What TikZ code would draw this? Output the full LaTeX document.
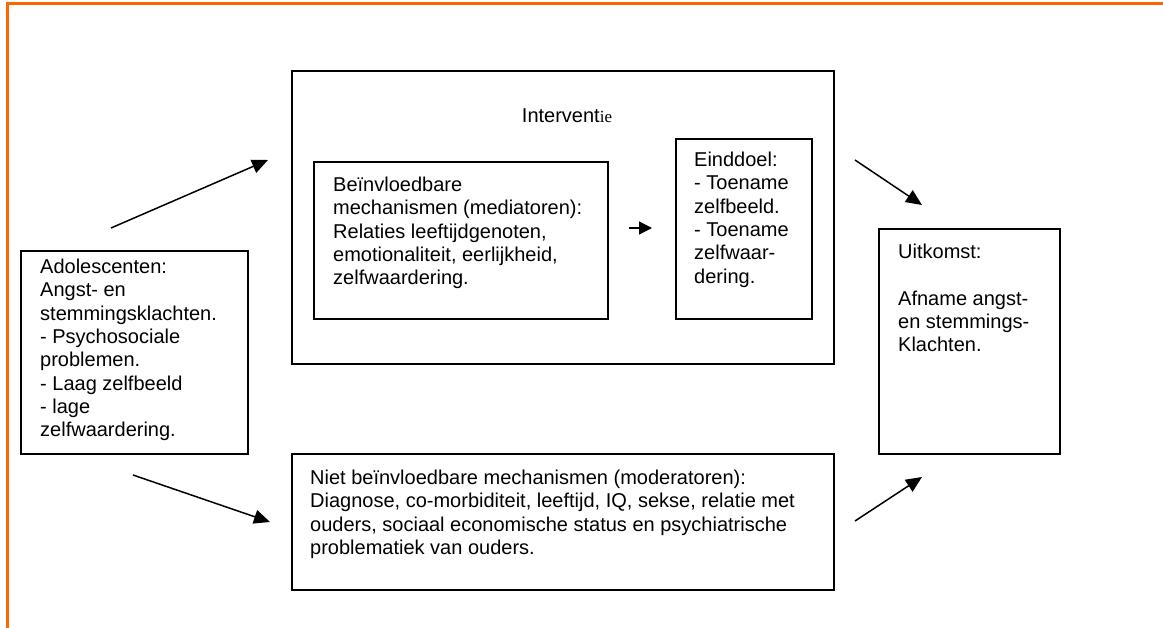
\documentclass[tikz,border=0pt]{standalone}
\usepackage{fontspec}
\setmainfont{Liberation Sans}
\newfontfamily\serifie{Liberation Serif}
\usetikzlibrary{arrows.meta}
\definecolor{frameorange}{HTML}{FF6600}
\begin{document}
\begin{tikzpicture}[x=1pt,y=-1pt,
  box/.style={draw=black, line width=1.7pt, inner sep=0pt, anchor=north west},
  txt/.style={anchor=north west, inner sep=0pt, align=left, font=\fontsize{20}{23.3}\selectfont},
  arr/.style={line width=1.5pt, -{Triangle[length=16pt,width=14pt]}},
  smallarr/.style={line width=1.5pt, -{Triangle[length=13pt,width=13pt]}},
  frame/.style={draw=frameorange, line width=3pt}]
\useasboundingbox (0,0) rectangle (1163,628);
\draw[frame] (7,628) -- (7,4) -- (1163,4);

% boxes
\node[box, minimum width=227pt, minimum height=203pt] (adol) at (20,250) {};
\node[box, minimum width=542pt, minimum height=293pt] (interv) at (291,70) {};
\node[box, minimum width=294pt, minimum height=157pt] (beinv) at (313,161) {};
\node[box, minimum width=136pt, minimum height=180pt] (eind) at (675,138) {};
\node[box, minimum width=181pt, minimum height=225pt] (uit) at (878,228) {};
\node[box, minimum width=542pt, minimum height=136pt] (niet) at (291,453) {};

% texts
\node[txt] (adoltxt) at (40,259) {Adolescenten:\\Angst- en\\stemmingsklachten.\\- Psychosociale\\problemen.\\- Laag zelfbeeld\\- lage\\zelfwaardering.};
\node[anchor=center, inner sep=0pt, font=\fontsize{20}{23.3}\selectfont] (intervtxt) at (567,116) {Intervent{\serifie\fontsize{17}{20}\selectfont ie}};
\node[txt] (beinvtxt) at (333,177) {Beïnvloedbare\\mechanismen (mediatoren):\\Relaties leeftijdgenoten,\\emotionaliteit, eerlijkheid,\\zelfwaardering.};
\node[txt] (eindtxt) at (694,152) {Einddoel:\\- Toename\\zelfbeeld.\\- Toename\\zelfwaar-\\dering.};
\node[txt] (uittxt) at (898,244) {Uitkomst:\\[23.3pt]Afname angst-\\en stemmings-\\Klachten.};
\node[txt] (niettxt) at (310,470) {Niet beïnvloedbare mechanismen (moderatoren):\\Diagnose, co-morbiditeit, leeftijd, IQ, sekse, relatie met\\ouders, sociaal economische status en psychiatrische\\problematiek van ouders.};

% arrows
\coordinate (a1s) at (111,228);
\coordinate (a1e) at (268,160);
\coordinate (a2s) at (133,475);
\coordinate (a2e) at (270,522);
\coordinate (a3s) at (855,160);
\coordinate (a3e) at (922,205);
\coordinate (a4s) at (855,521);
\coordinate (a4e) at (922,477);
\coordinate (m1) at (629,228);
\coordinate (m2) at (652,228);
\draw[arr] (a1s) -- (a1e);
\draw[arr] (a2s) -- (a2e);
\draw[arr] (a3s) -- (a3e);
\draw[arr] (a4s) -- (a4e);
\draw[smallarr] (m1) -- (m2);
\end{tikzpicture}
\end{document}
